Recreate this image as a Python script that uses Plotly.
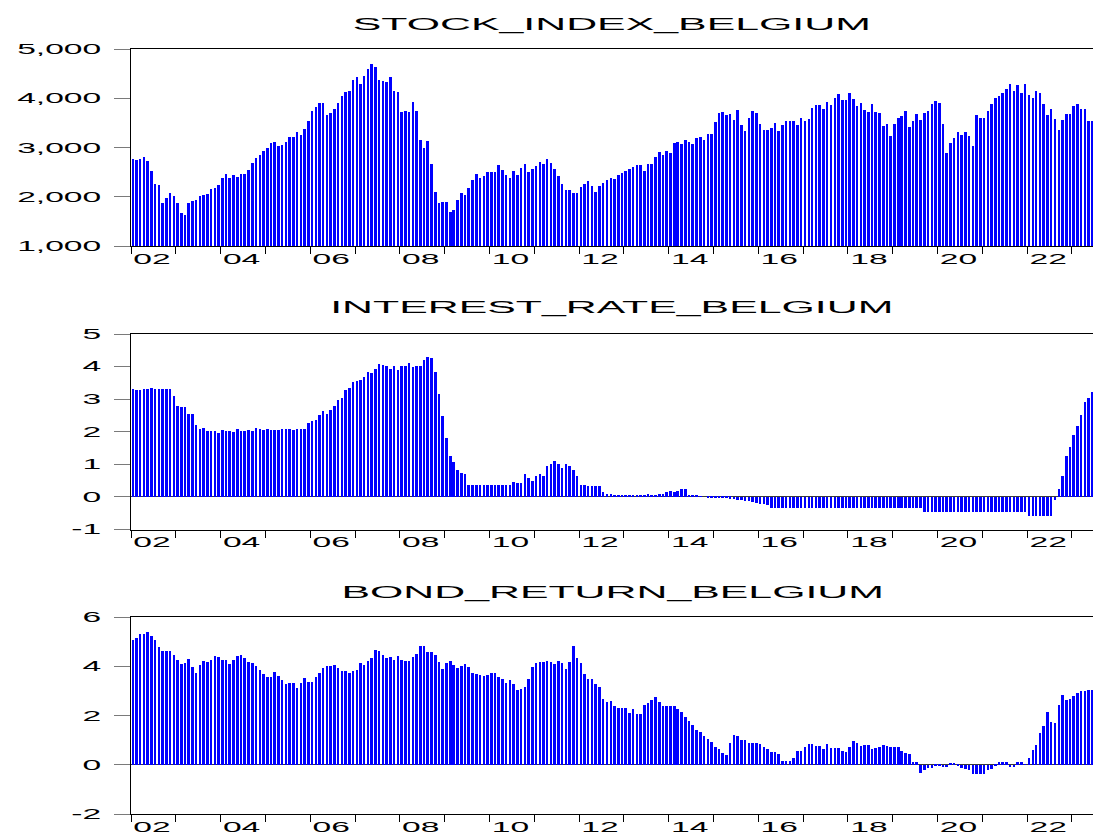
import pandas as pd
import plotly.graph_objects as go

# ---------------- data (monthly, 2002M01 .. 2023M06) ----------------
months = pd.date_range("2002-01-01", periods=258, freq="MS")

stock_index = [
    2763, 2742, 2763, 2803, 2715, 2519, 2254, 2241, 1861, 1963, 2071, 2017,   # 2002
    1868, 1664, 1624, 1861, 1915, 1922, 2017, 2030, 2044, 2146, 2166, 2234,   # 2003
    2369, 2464, 2376, 2430, 2403, 2458, 2451, 2546, 2681, 2783, 2851, 2919,   # 2004
    2986, 3088, 3115, 3034, 3047, 3102, 3210, 3210, 3312, 3251, 3380, 3542,   # 2005
    3739, 3820, 3908, 3908, 3658, 3698, 3786, 3902, 4051, 4132, 4140, 4376,   # 2006
    4424, 4295, 4458, 4600, 4688, 4627, 4376, 4342, 4322, 4431, 4153, 4119,   # 2007
    3712, 3746, 3712, 3915, 3746, 3156, 2986, 3122, 2654, 2085, 1868, 1888,   # 2008
    1888, 1678, 1732, 1936, 2064, 2024, 2173, 2342, 2464, 2383, 2410, 2492,   # 2009
    2492, 2492, 2634, 2546, 2437, 2369, 2512, 2444, 2580, 2668, 2492, 2566,   # 2010
    2627, 2695, 2654, 2763, 2681, 2559, 2410, 2261, 2125, 2125, 2071, 2071,   # 2011
    2193, 2261, 2315, 2207, 2085, 2220, 2275, 2329, 2369, 2356, 2430, 2478,   # 2012
    2512, 2559, 2593, 2634, 2641, 2512, 2654, 2661, 2797, 2898, 2851, 2919,   # 2013
    2885, 3081, 3115, 3068, 3149, 3115, 3075, 3183, 3210, 3149, 3271, 3271,   # 2014
    3515, 3698, 3712, 3658, 3685, 3563, 3753, 3447, 3332, 3590, 3746, 3692,   # 2015
    3475, 3359, 3359, 3393, 3495, 3332, 3447, 3542, 3542, 3536, 3461, 3590,   # 2016
    3536, 3576, 3800, 3854, 3868, 3780, 3915, 3868, 3997, 4085, 3963, 3963,   # 2017
    4098, 3983, 3834, 3895, 3753, 3712, 3881, 3725, 3692, 3427, 3468, 3224,   # 2018
    3468, 3590, 3644, 3732, 3414, 3536, 3685, 3549, 3698, 3739, 3888, 3936,   # 2019
    3895, 3468, 2885, 3081, 3183, 3305, 3258, 3312, 3224, 3027, 3651, 3603,   # 2020
    3603, 3746, 3881, 3997, 4037, 4105, 4180, 4288, 4146, 4268, 4098, 4295,   # 2021
    4064, 4003, 4146, 4098, 3875, 3664, 3780, 3576, 3359, 3556, 3678, 3685,   # 2022
    3841, 3888, 3780, 3786, 3536, 3536,                                       # 2023
]

interest_rate = [
    3.30, 3.28, 3.28, 3.32, 3.31, 3.35, 3.31, 3.31, 3.32, 3.31, 3.31, 3.09,   # 2002
    2.79, 2.77, 2.75, 2.56, 2.56, 2.22, 2.09, 2.10, 2.02, 2.01, 2.01, 1.97,   # 2003
    2.05, 2.02, 2.03, 2.00, 2.07, 2.01, 2.03, 2.05, 2.03, 2.10, 2.08, 2.05,   # 2004
    2.07, 2.05, 2.06, 2.05, 2.07, 2.07, 2.07, 2.05, 2.09, 2.07, 2.07, 2.27,   # 2005
    2.33, 2.36, 2.50, 2.63, 2.56, 2.68, 2.79, 2.96, 3.03, 3.28, 3.33, 3.53,   # 2006
    3.57, 3.59, 3.69, 3.82, 3.79, 3.94, 4.07, 4.05, 4.03, 3.94, 4.03, 3.89,   # 2007
    4.02, 4.03, 4.10, 3.98, 4.02, 4.02, 4.20, 4.28, 4.27, 3.82, 3.16, 2.48,   # 2008
    1.82, 1.26, 1.06, 0.82, 0.74, 0.69, 0.36, 0.36, 0.36, 0.36, 0.36, 0.36,   # 2009
    0.36, 0.36, 0.36, 0.36, 0.36, 0.36, 0.46, 0.43, 0.44, 0.71, 0.58, 0.49,   # 2010
    0.65, 0.71, 0.65, 0.95, 1.01, 1.10, 1.01, 0.90, 1.00, 0.95, 0.82, 0.63,   # 2011
    0.37, 0.37, 0.35, 0.35, 0.35, 0.34, 0.16, 0.10, 0.10, 0.07, 0.06, 0.06,   # 2012
    0.05, 0.05, 0.06, 0.06, 0.07, 0.07, 0.08, 0.07, 0.07, 0.08, 0.10, 0.15,   # 2013
    0.17, 0.15, 0.18, 0.24, 0.24, 0.07, 0.04, 0.03, 0.01, 0.00, -0.01, -0.01, # 2014
    -0.01, -0.02, -0.02, -0.03, -0.05, -0.07, -0.08, -0.10, -0.11, -0.13, -0.16, -0.19,  # 2015
    -0.22, -0.23, -0.24, -0.33, -0.34, -0.34, -0.34, -0.34, -0.34, -0.34, -0.34, -0.34,  # 2016
    -0.34, -0.34, -0.34, -0.34, -0.34, -0.34, -0.34, -0.34, -0.34, -0.34, -0.34, -0.34,  # 2017
    -0.34, -0.34, -0.34, -0.34, -0.34, -0.34, -0.34, -0.34, -0.34, -0.34, -0.34, -0.34,  # 2018
    -0.34, -0.34, -0.34, -0.34, -0.34, -0.34, -0.34, -0.34, -0.46, -0.46, -0.46, -0.46,  # 2019
    -0.46, -0.46, -0.46, -0.46, -0.46, -0.46, -0.46, -0.46, -0.46, -0.46, -0.46, -0.46,  # 2020
    -0.46, -0.46, -0.46, -0.46, -0.46, -0.46, -0.46, -0.46, -0.46, -0.46, -0.46, -0.46,  # 2021
    -0.58, -0.58, -0.58, -0.58, -0.58, -0.58, -0.58, -0.08, 0.24, 0.65, 1.26, 1.52,      # 2022
    1.90, 2.19, 2.50, 2.90, 3.05, 3.21,                                                   # 2023
]

bond_return = [
    5.07, 5.14, 5.32, 5.32, 5.37, 5.24, 5.07, 4.79, 4.60, 4.60, 4.60, 4.44,   # 2002
    4.26, 4.08, 4.12, 4.29, 3.95, 3.74, 4.04, 4.22, 4.19, 4.26, 4.42, 4.37,   # 2003
    4.26, 4.26, 4.08, 4.26, 4.40, 4.46, 4.33, 4.18, 4.12, 3.99, 3.85, 3.68,   # 2004
    3.58, 3.58, 3.77, 3.61, 3.43, 3.27, 3.31, 3.31, 3.13, 3.31, 3.50, 3.35,   # 2005
    3.35, 3.55, 3.72, 3.92, 3.99, 3.99, 4.03, 3.92, 3.81, 3.81, 3.72, 3.79,   # 2006
    3.85, 4.12, 4.06, 4.22, 4.33, 4.64, 4.63, 4.44, 4.33, 4.37, 4.26, 4.40,   # 2007
    4.26, 4.23, 4.23, 4.37, 4.50, 4.84, 4.84, 4.57, 4.56, 4.44, 4.19, 3.88,   # 2008
    4.12, 4.23, 4.03, 3.92, 3.99, 4.08, 3.95, 3.74, 3.69, 3.65, 3.62, 3.64,   # 2009
    3.74, 3.73, 3.58, 3.47, 3.31, 3.45, 3.27, 3.04, 3.08, 3.15, 3.47, 3.96,   # 2010
    4.12, 4.17, 4.17, 4.23, 4.17, 4.10, 4.22, 4.12, 3.88, 4.19, 4.84, 4.33,   # 2011
    4.12, 3.69, 3.47, 3.47, 3.28, 3.15, 2.67, 2.56, 2.59, 2.40, 2.29, 2.29,   # 2012
    2.29, 2.09, 2.25, 2.05, 2.05, 2.42, 2.52, 2.63, 2.74, 2.56, 2.39, 2.39,   # 2013
    2.39, 2.39, 2.25, 2.14, 1.95, 1.79, 1.59, 1.41, 1.33, 1.17, 1.04, 0.90,   # 2014
    0.73, 0.62, 0.46, 0.38, 0.87, 1.21, 1.17, 1.00, 1.00, 0.87, 0.87, 0.87,   # 2015
    0.84, 0.73, 0.62, 0.52, 0.52, 0.43, 0.16, 0.15, 0.14, 0.27, 0.53, 0.57,   # 2016
    0.71, 0.83, 0.83, 0.76, 0.77, 0.62, 0.83, 0.69, 0.66, 0.66, 0.53, 0.50,   # 2017
    0.71, 0.96, 0.87, 0.77, 0.79, 0.79, 0.64, 0.66, 0.73, 0.81, 0.77, 0.73,   # 2018
    0.73, 0.72, 0.53, 0.46, 0.42, 0.11, 0.11, -0.33, -0.22, -0.15, -0.15, -0.03,   # 2019
    -0.04, -0.12, -0.11, 0.08, 0.05, -0.04, -0.15, -0.19, -0.24, -0.37, -0.37, -0.37,  # 2020
    -0.39, -0.24, -0.19, -0.04, 0.12, 0.12, 0.09, -0.11, -0.11, 0.11, 0.12, 0.01,   # 2021
    0.26, 0.60, 0.79, 1.30, 1.57, 2.12, 1.75, 1.68, 2.43, 2.84, 2.61, 2.66,   # 2022
    2.77, 2.90, 3.00, 3.01, 3.04, 3.04,                                       # 2023
]

titles = ["STOCK_INDEX_BELGIUM", "INTEREST_RATE_BELGIUM", "BOND_RETURN_BELGIUM"]

year_ticks = pd.date_range("2002-01-01", "2023-01-01", freq="YS")
year_labels = [f"{y % 100:02d}" if y % 2 == 0 else "" for y in year_ticks.year]

stock_ticks = [1000, 2000, 3000, 4000, 5000]
stock_ticktext = ["1,000", "2,000", "3,000", "4,000", "5,000"]
rate_ticks = [-1, 0, 1, 2, 3, 4, 5]
rate_ticktext = ["-1", "0", "1", "2", "3", "4", "5"]
bond_ticks = [-2, 0, 2, 4, 6]
bond_ticktext = ["-2", "0", "2", "4", "6"]

# ---------------- layout geometry ----------------
W, H = 1093, 832
LEFT = 131
FONT = "Liberation Sans, Arial, sans-serif"
panels = [  # (top px, bottom px, title centre px)
    (49.3, 246.0, 24),
    (334.0, 529.5, 307),
    (617.3, 814.0, 592),
]
series = [stock_index, interest_rate, bond_return]
yranges = [[1000, 5000], [-1, 5], [-2, 6]]
yticks = [(stock_ticks, stock_ticktext), (rate_ticks, rate_ticktext), (bond_ticks, bond_ticktext)]

mid_month = months + pd.Timedelta(days=15)
bar_width_ms = 0.68 * 30.44 * 86400000

fig = go.Figure()
annotations = []
for k, (vals, (top, bot, ty)) in enumerate(zip(series, panels)):
    n = "" if k == 0 else str(k + 1)
    fig.add_trace(go.Bar(
        x=mid_month, y=vals, width=[bar_width_ms] * len(vals),
        marker=dict(color="#0000FF", line=dict(width=0)),
        xaxis="x" + n, yaxis="y" + n, showlegend=False, hoverinfo="skip",
    ))
    fig.layout["xaxis" + n] = dict(
        type="date", domain=[LEFT / W, 1.0], anchor="y" + n,
        range=["2002-01-01", "2023-06-22"], automargin=False,
        showline=True, linecolor="black", linewidth=1, mirror=True,
        ticks="outside", ticklen=7, tickcolor="black", tickwidth=1,
        tickmode="array", tickvals=list(year_ticks), ticktext=year_labels,
        ticklabelshift=21,
        tickfont=dict(family=FONT, size=14, color="black"),
        showgrid=False, zeroline=False, fixedrange=True,
    )
    try:
        fig.layout["xaxis" + n].ticklabelstandoff = -7
    except ValueError:
        pass
    tv, tt = yticks[k]
    fig.layout["yaxis" + n] = dict(
        domain=[(H - bot) / H, (H - top) / H], anchor="x" + n,
        range=yranges[k], automargin=False,
        showline=True, linecolor="black", linewidth=1, mirror=False,
        ticks="outside", ticklen=16, tickcolor="#7a7a7a", tickwidth=1.3,
        tickmode="array", tickvals=tv, ticktext=tt,
        ticklabelstandoff=10,
        tickfont=dict(family=FONT, size=14, color="black"),
        showgrid=False,
        zeroline=(k > 0), zerolinecolor="#3a3a3a", zerolinewidth=1.2,
        fixedrange=True,
    )
    annotations.append(dict(
        text=titles[k], xref="paper", yref="paper",
        x=612 / W, y=(H - ty) / H, xanchor="center", yanchor="middle",
        showarrow=False, font=dict(family=FONT, size=17, color="black"),
    ))

fig.update_layout(
    width=W, height=H, autosize=False,
    margin=dict(l=0, r=0, t=0, b=0, pad=0, autoexpand=False),
    paper_bgcolor="white", plot_bgcolor="white",
    annotations=annotations, bargap=0,
)

# Page: pin the 1093x832 figure to the window's top-left corner, page exactly window-sized.
# EViews-style wide lettering: stretch every text element horizontally about its anchor.
post_js = """
var gd = document.getElementById('{plot_id}');
[document.documentElement, document.body].forEach(function(el){
  el.style.margin = '0'; el.style.padding = '0'; el.style.overflow = 'hidden';
  el.style.width = '1093px'; el.style.height = '832px';
});
gd.style.position = 'absolute'; gd.style.left = '0px'; gd.style.top = '0px';
function stretchText(){
  var nodes = gd.querySelectorAll('text');
  for (var k = 0; k < nodes.length; k++) {
    var t = nodes[k];
    var tr = t.getAttribute('transform') || '';
    if (tr.indexOf('scale(') >= 0) continue;
    var s = t.classList.contains('annotation-text') ? 2.52 : 2.4;
    var x = parseFloat(t.getAttribute('x')) || 0;
    t.setAttribute('transform', tr + ' translate(' + x + ',0) scale(' + s + ',1) translate(' + (-x) + ',0)');
  }
}
stretchText();
gd.on('plotly_afterplot', stretchText);
"""

fig.write_html("out.html", config={"displayModeBar": False, "responsive": False},
               post_script=post_js)
